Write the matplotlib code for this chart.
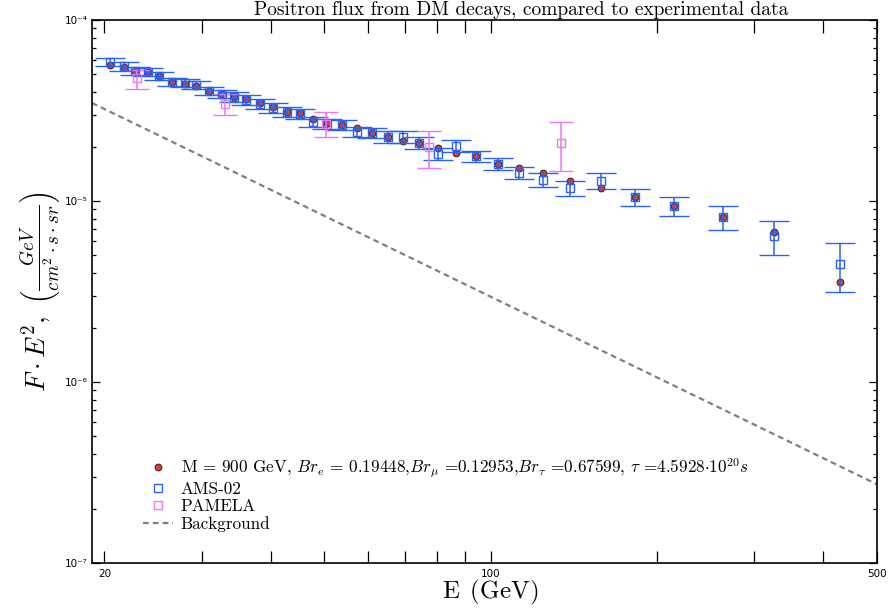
import matplotlib
matplotlib.use("Agg")
from matplotlib import pyplot as plt
from matplotlib.lines import Line2D
from matplotlib import ticker

plt.rcParams['mathtext.fontset'] = 'cm'
plt.rcParams['axes.unicode_minus'] = False

# AMS-02 data (energy in GeV, flux * E^2)
ams_E = [20.5, 21.7, 22.7, 24.0, 25.1, 26.5, 28.0, 29.3, 30.9, 32.6, 34.3, 36.1,
         38.2, 40.4, 42.8, 45.2, 47.7, 50.6, 53.8, 57.2, 60.9, 65.1, 69.3, 74.1,
         80.2, 86.4, 93.9, 102.9, 112.3, 124.6, 139.4, 158.6, 182.7, 214.8,
         263.4, 325.6, 428.5]
ams_F = [5.88e-5, 5.55e-5, 5.23e-5, 5.16e-5, 4.90e-5, 4.55e-5, 4.49e-5, 4.38e-5,
         4.05e-5, 3.90e-5, 3.76e-5, 3.62e-5, 3.44e-5, 3.27e-5, 3.10e-5, 3.02e-5,
         2.73e-5, 2.66e-5, 2.63e-5, 2.41e-5, 2.38e-5, 2.26e-5, 2.26e-5, 2.09e-5,
         1.82e-5, 2.01e-5, 1.77e-5, 1.60e-5, 1.43e-5, 1.31e-5, 1.18e-5, 1.29e-5,
         1.05e-5, 9.38e-6, 8.16e-6, 6.41e-6, 4.49e-6]
ams_err = [3.0e-6, 2.9e-6, 2.7e-6, 2.6e-6, 2.5e-6, 2.3e-6, 2.3e-6, 2.2e-6, 2.1e-6,
           2.0e-6, 2.4e-6, 2.3e-6, 2.2e-6, 2.1e-6, 2.0e-6, 1.9e-6, 1.7e-6, 1.7e-6,
           1.7e-6, 1.5e-6, 1.5e-6, 1.7e-6, 1.7e-6, 1.6e-6, 1.4e-6, 1.5e-6, 1.2e-6,
           1.2e-6, 1.1e-6, 1.2e-6, 1.1e-6, 1.3e-6, 1.1e-6, 1.1e-6, 1.25e-6,
           1.35e-6, 1.35e-6]

# DM decay model, same energies as AMS-02
model_F = [5.64e-5, 5.50e-5, 5.23e-5, 5.16e-5, 4.90e-5, 4.55e-5, 4.43e-5, 4.32e-5,
           4.05e-5, 3.90e-5, 3.76e-5, 3.66e-5, 3.48e-5, 3.31e-5, 3.10e-5, 3.06e-5,
           2.84e-5, 2.70e-5, 2.63e-5, 2.53e-5, 2.38e-5, 2.26e-5, 2.15e-5, 2.09e-5,
           1.96e-5, 1.84e-5, 1.77e-5, 1.60e-5, 1.52e-5, 1.43e-5, 1.29e-5, 1.18e-5,
           1.05e-5, 9.38e-6, 8.16e-6, 6.74e-6, 3.57e-6]

# PAMELA data
pam_E = [22.9, 33.0, 50.3, 77.2, 134.3]
pam_F = [4.78e-5, 3.44e-5, 2.66e-5, 1.99e-5, 2.09e-5]
pam_lo = [0.62e-5, 0.45e-5, 0.40e-5, 0.47e-5, 0.63e-5]
pam_hi = [0.51e-5, 0.46e-5, 0.44e-5, 0.45e-5, 0.64e-5]

# background
bg_E = [19, 30, 50, 100, 200, 300, 500]
bg_F = [3.48e-5, 1.77e-5, 8.28e-6, 2.96e-6, 1.06e-6, 5.81e-7, 2.72e-7]

model_label = (r'M = 900 GeV, $Br_e$ = 0.19448,$Br_\mu$ =0.12953,'
               r'$Br_\tau$ =0.67599, $\tau$ =4.5928$\cdot10^{20}s$')

ams_color = '#2a62f5'
pam_color = '#ee77ee'
bg_style = (0, (2.6, 1.8))

fig = plt.figure(figsize=(8.9, 6.11), dpi=100)
ax = fig.add_axes([92 / 890, 48 / 611, 785 / 890, 543 / 611])

ax.plot(bg_E, bg_F, color='#808080', lw=1.6, linestyle=bg_style)

ax.plot(ams_E, model_F, 'o', ms=4.8, mfc='#e8392a', mec='#3a2a2a', mew=0.8, zorder=3)

ax.errorbar(ams_E, ams_F, yerr=ams_err, fmt='s', ms=5.2, mfc='none', mec=ams_color,
            mew=1.0, ecolor=ams_color, elinewidth=1.1, capsize=10.8, capthick=1.1,
            zorder=4)
ax.errorbar(pam_E, pam_F, yerr=[pam_lo, pam_hi], fmt='s', ms=5.2, mfc='none',
            mec=pam_color, mew=1.0, ecolor=pam_color, elinewidth=1.1, capsize=8.3,
            capthick=1.1, zorder=4)

ax.set_xscale('log')
ax.set_yscale('log')
ax.set_xlim(19, 500)
ax.set_ylim(1e-7, 1e-4)

ax.xaxis.set_major_locator(ticker.FixedLocator([20, 100, 500]))
ax.xaxis.set_major_formatter(ticker.FixedFormatter(['20', '100', '500']))
ax.xaxis.set_minor_locator(ticker.LogLocator(base=10, subs=range(2, 10)))
ax.xaxis.set_minor_formatter(ticker.NullFormatter())

ax.yaxis.set_major_locator(ticker.FixedLocator([1e-7, 1e-6, 1e-5, 1e-4]))
ax.yaxis.set_major_formatter(ticker.FixedFormatter(['10⁻⁷', '10⁻⁶', '10⁻⁵', '10⁻⁴']))
ax.yaxis.set_minor_locator(ticker.LogLocator(base=10, subs=range(2, 10)))
ax.yaxis.set_minor_formatter(ticker.NullFormatter())

ax.tick_params(axis='x', which='both', direction='in', top=True, length=9, width=0.9,
               pad=4)
ax.tick_params(axis='y', which='major', direction='in', right=True, length=6,
               width=0.9, pad=3)
ax.tick_params(axis='y', which='minor', direction='in', right=True, length=3,
               width=0.9)
for lab in ax.get_xticklabels() + ax.get_yticklabels():
    lab.set_fontfamily(['Liberation Sans Narrow', 'DejaVu Sans'])
    lab.set_fontsize(7.5)
for sp in ax.spines.values():
    sp.set_linewidth(1.2)

fig.text(490 / 890, 1 - 592 / 611, r'$\mathrm{E\ \,(GeV)}$', fontsize=18,
         ha='center', va='center')
ax.set_ylabel(r'$F\cdot E^2,\ \left(\frac{GeV}{cm^2\cdot s\cdot sr}\right)$',
              fontsize=19.5, labelpad=2)

fig.text(521 / 890, 1 - 10 / 611, 'Positron flux from DM decays, compared to experimental data',
         family='cmr10', fontsize=14, ha='center', va='center')

handles = [
    Line2D([], [], marker='o', ls='none', ms=4.8, mfc='#e8392a', mec='#3a2a2a', mew=0.8),
    Line2D([], [], marker='s', ls='none', ms=5.2, mfc='none', mec=ams_color, mew=1.0),
    Line2D([], [], marker='s', ls='none', ms=5.2, mfc='none', mec=pam_color, mew=1.0),
    Line2D([], [], color='#808080', lw=1.6, linestyle=bg_style),
]
labels = [model_label, 'AMS-02', 'PAMELA', 'Background']
ax.legend(handles, labels, loc='lower left', bbox_to_anchor=(0.065, 0.058),
          frameon=False, borderpad=0, borderaxespad=0, handlelength=1.75,
          handletextpad=0.45, labelspacing=0.1,
          prop={'family': 'cmr10', 'size': 12.3})

fig.savefig('out.png', dpi=100)
